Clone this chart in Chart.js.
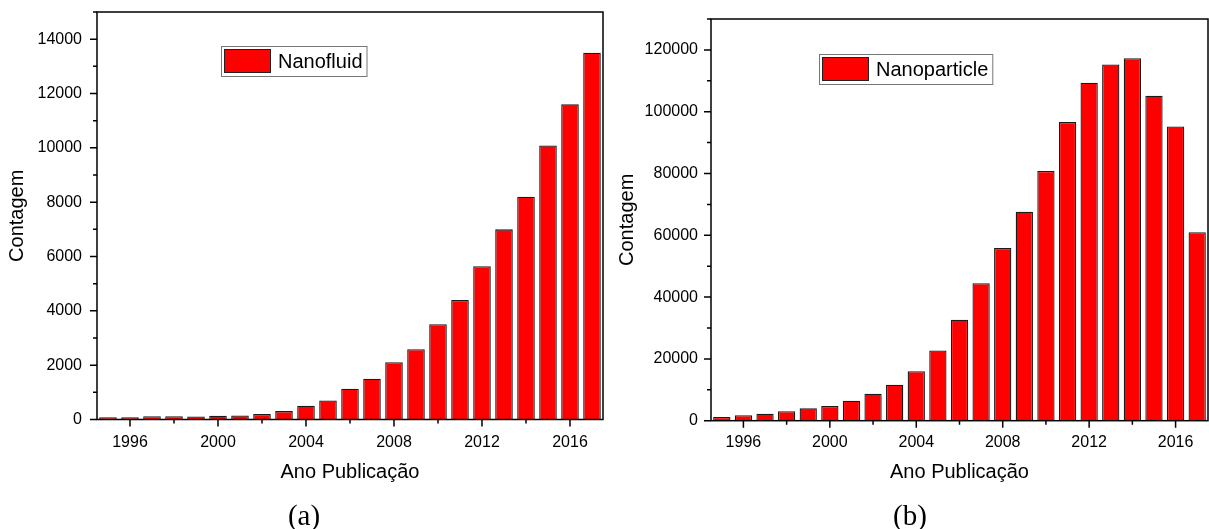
<!DOCTYPE html>
<html lang="pt">
<head>
    <meta charset="UTF-8">
    <title>Publicações por ano</title>
    <script src="https://cdn.jsdelivr.net/npm/chart.js@4.4.1/dist/chart.umd.min.js"></script>
    <style>
        body { margin: 0; background: #fff; }
        #wrap { position: relative; width: 1209px; height: 529px; }
        canvas { position: absolute; top: 0; }
        #chartA { left: 0; }
        #chartB { left: 610px; }
        .caption {
            position: absolute;
            top: 499px;
            width: 60px;
            text-align: center;
            font-family: "Liberation Serif", serif;
            font-size: 29px;
            line-height: 32px;
            color: #000;
        }
    </style>
</head>
<body>
<div id="wrap">
    <canvas id="chartA" width="610" height="500"></canvas>
    <canvas id="chartB" width="599" height="500"></canvas>
    <div class="caption" style="left:274px">(a)</div>
    <div class="caption" style="left:880px">(b)</div>
</div>

<script>
    // data
    const years = [1995, 1996, 1997, 1998, 1999, 2000, 2001, 2002, 2003, 2004, 2005, 2006,
                   2007, 2008, 2009, 2010, 2011, 2012, 2013, 2014, 2015, 2016, 2017];
    const nanofluid = [80, 80, 120, 120, 110, 140, 150, 200, 310, 510, 700, 1130,
                       1500, 2110, 2590, 3510, 4400, 5640, 7000, 8200, 10090, 11600, 13500];
    const nanoparticle = [1200, 1750, 2270, 3050, 4000, 4760, 6480, 8750, 11670, 16000, 22700, 32700,
                          44500, 55900, 67600, 80800, 96700, 109400, 115300, 117300, 105200, 95200, 61000];

    const xTitle = 'Ano Publicação';
    const yTitle = 'Contagem';
    const FONT = '"Liberation Sans", Arial, sans-serif';

    Chart.defaults.font.family = FONT;
    Chart.defaults.color = '#000';

    // frame around the plot + major/minor tick marks
    const frameTicks = {
        id: 'frameTicks',
        afterDatasetsDraw(chart, args, opts) {
            const {ctx, chartArea: a, scales: {x, y}} = chart;
            ctx.save();
            ctx.strokeStyle = '#000';
            ctx.lineWidth = 1.5;
            ctx.strokeRect(a.left, a.top, a.right - a.left, a.bottom - a.top);
            ctx.beginPath();
            x.ticks.forEach(t => {
                const px = x.getPixelForValue(t.value);
                const len = t.value % opts.xMajor === 0 ? 7 : 4;
                ctx.moveTo(px, a.bottom);
                ctx.lineTo(px, a.bottom + len);
            });
            y.ticks.forEach(t => {
                const py = y.getPixelForValue(t.value);
                const len = t.value % opts.yMajor === 0 ? 7 : 4;
                ctx.moveTo(a.left, py);
                ctx.lineTo(a.left - len, py);
            });
            ctx.stroke();
            ctx.restore();
        }
    };

    // boxed legend inside the plot
    const boxLegend = {
        id: 'boxLegend',
        afterDraw(chart, args, opts) {
            const {ctx, chartArea: a} = chart;
            const ds = chart.data.datasets[0];
            ctx.save();
            ctx.font = '20px ' + FONT;
            const tw = ctx.measureText(ds.label).width;
            const bx = Math.round(a.left + opts.x * (a.right - a.left));
            const by = Math.round(a.top + opts.y);
            const bw = 3 + 47 + 7 + tw + 4, bh = 30;
            ctx.fillStyle = '#fff';
            ctx.fillRect(bx, by, bw, bh);
            ctx.strokeStyle = '#777';
            ctx.lineWidth = 1;
            ctx.strokeRect(bx + 0.5, by + 0.5, bw, bh);
            ctx.fillStyle = ds.backgroundColor;
            ctx.fillRect(bx + 3, by + 3, 47, 24);
            ctx.strokeStyle = '#222';
            ctx.strokeRect(bx + 3.5, by + 3.5, 46, 23);
            ctx.fillStyle = '#000';
            ctx.textBaseline = 'middle';
            ctx.fillText(ds.label, bx + 57, by + bh / 2 + 1);
            ctx.restore();
        }
    };

    function makeChart(id, label, values, o) {
        return new Chart(document.getElementById(id), {
            type: 'bar',
            data: {
                labels: years,
                datasets: [{
                    label: label,
                    data: values,
                    backgroundColor: '#ff0000',
                    borderColor: '#1a1a1a',
                    borderWidth: 1.3,
                    barPercentage: 0.8,
                    categoryPercentage: 1
                }]
            },
            options: {
                responsive: false,
                animation: false,
                layout: {padding: {top: o.top, right: o.right, left: 0, bottom: 0}},
                scales: {
                    x: {
                        type: 'linear',
                        min: 1994.5,
                        max: 2017.5,
                        offset: false,
                        grid: {display: false, drawTicks: false},
                        border: {display: false},
                        afterBuildTicks: s => {
                            s.ticks = years.filter(v => v % 2 === 0).map(v => ({value: v}));
                        },
                        ticks: {
                            autoSkip: false,
                            maxRotation: 0,
                            padding: o.xPad,
                            font: {size: 16},
                            callback: v => v % 4 === 0 ? String(v) : ''
                        },
                        title: {
                            display: true,
                            text: xTitle,
                            font: {size: 20},
                            padding: {top: 0, bottom: 16}
                        },
                        afterFit: s => {
                            s.height = o.xH;
                            s.paddingLeft = 0;
                            s.paddingRight = 0;
                        }
                    },
                    y: {
                        min: 0,
                        max: o.yMax,
                        grid: {display: false, drawTicks: false},
                        border: {display: false},
                        ticks: {
                            stepSize: o.yStep,
                            autoSkip: false,
                            padding: o.yPad,
                            font: {size: 16},
                            callback: v => v % (2 * o.yStep) === 0 ? String(v) : ''
                        },
                        title: {
                            display: true,
                            text: yTitle,
                            font: {size: 20},
                            padding: {top: 5, bottom: 0}
                        },
                        afterFit: s => {
                            s.width = o.yW;
                            s.paddingTop = 0;
                            s.paddingBottom = 0;
                        }
                    }
                },
                plugins: {
                    legend: {display: false},
                    tooltip: {enabled: false},
                    frameTicks: {xMajor: 4, yMajor: 2 * o.yStep},
                    boxLegend: {x: o.legX, y: o.legY}
                }
            },
            plugins: [frameTicks, boxLegend]
        });
    }

    makeChart('chartA', 'Nanofluid', nanofluid, {
        top: 12, right: 7, xH: 80.5, yW: 97, xPad: 13, yPad: 15,
        yMax: 15000, yStep: 1000, legX: 0.2445, legY: 34
    });

    makeChart('chartB', 'Nanoparticle', nanoparticle, {
        top: 19, right: 1, xH: 79.3, yW: 101, xPad: 12, yPad: 13,
        yMax: 130000, yStep: 10000, legX: 0.217, legY: 35
    });
</script>
</body>
</html>
